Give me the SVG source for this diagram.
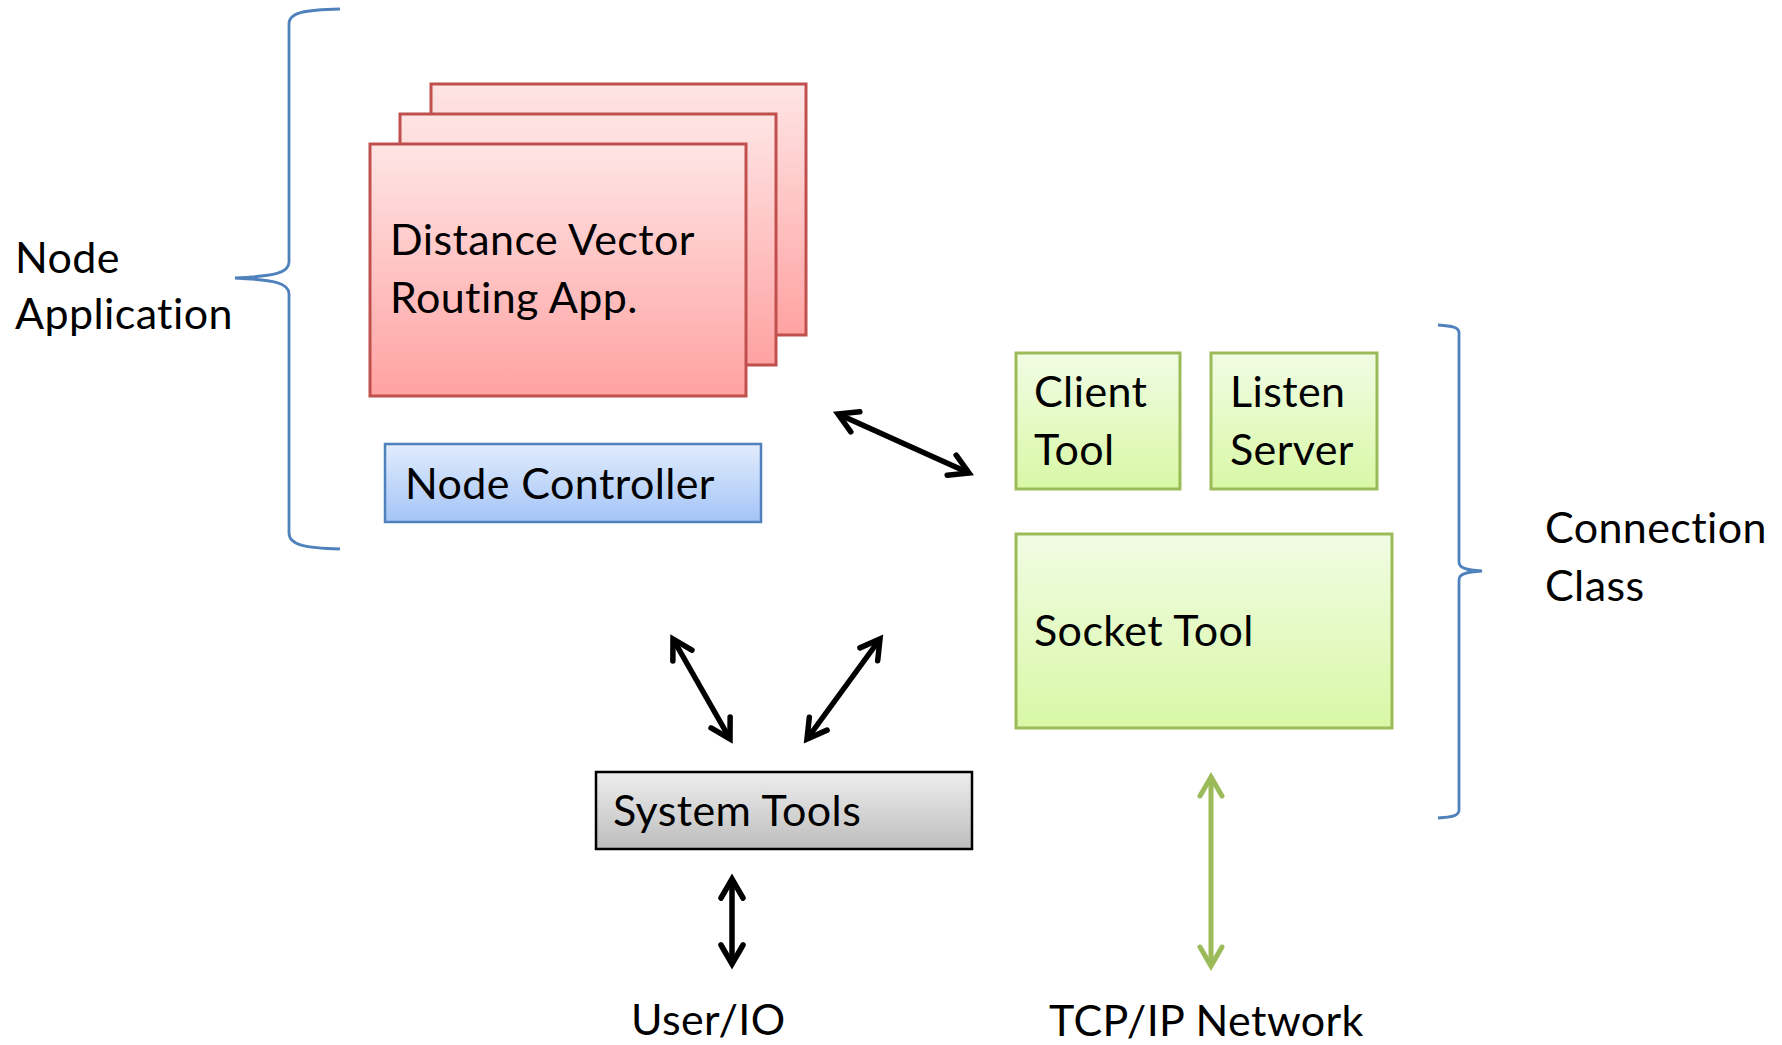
<svg xmlns="http://www.w3.org/2000/svg" width="1782" height="1045" viewBox="0 0 1782 1045">
<style>
  text { font-family: Lato, "Open Sans", "Liberation Sans", sans-serif; font-size: 43px; letter-spacing: 0.4px; fill: #000; }
  .brace { fill: none; stroke: #4f81bd; stroke-width: 2.8; }
  .red { fill: url(#gRed); stroke: #c0504d; stroke-width: 3; }
  .blue { fill: url(#gBlue); stroke: #4f81bd; stroke-width: 2.5; }
  .green { fill: url(#gGreen); stroke: #9bbb59; stroke-width: 3; }
  .gray { fill: url(#gGray); stroke: #000; stroke-width: 2.5; }
  .blk { stroke: #000; stroke-width: 5.5; fill: none; marker-start: url(#ahB); marker-end: url(#ahB); }
  .grn { stroke: #9bbb59; stroke-width: 5; fill: none; marker-start: url(#ahG); marker-end: url(#ahG); }
</style>
<defs>
  <linearGradient id="gRed" x1="0" y1="0" x2="0" y2="1">
    <stop offset="0" stop-color="#ffe5e5"/>
    <stop offset="1" stop-color="#ffa2a2"/>
  </linearGradient>
  <linearGradient id="gBlue" x1="0" y1="0" x2="0" y2="1">
    <stop offset="0" stop-color="#e2ecfd"/>
    <stop offset="1" stop-color="#a3c4f6"/>
  </linearGradient>
  <linearGradient id="gGreen" x1="0" y1="0" x2="0" y2="1">
    <stop offset="0" stop-color="#f1fce4"/>
    <stop offset="1" stop-color="#d8f8a6"/>
  </linearGradient>
  <linearGradient id="gGray" x1="0" y1="0" x2="0" y2="1">
    <stop offset="0" stop-color="#eeeeee"/>
    <stop offset="1" stop-color="#bdbdbd"/>
  </linearGradient>
  <marker id="ahB" markerUnits="userSpaceOnUse" viewBox="-26 -16 30 32" markerWidth="30" markerHeight="32" refX="0" refY="0" orient="auto-start-reverse" overflow="visible">
    <path d="M-19,-11 L0,0 L-19,11" fill="none" stroke="#000" stroke-width="5.5" stroke-linecap="round" stroke-linejoin="miter"/>
  </marker>
  <marker id="ahG" markerUnits="userSpaceOnUse" viewBox="-26 -16 30 32" markerWidth="30" markerHeight="32" refX="0" refY="0" orient="auto-start-reverse" overflow="visible">
    <path d="M-19,-11 L0,0 L-19,11" fill="none" stroke="#9bbb59" stroke-width="5" stroke-linecap="round" stroke-linejoin="miter"/>
  </marker>
</defs>
<rect width="1782" height="1045" fill="#fff"/>

<g id="brace-node-application">
  <path class="brace" d="M340,9 C305,10 289,12 289,24 L289,262 C289,273 275,276 235,278 C275,280 289,283 289,294 L289,533 C289,545 305,548 340,549"/>
  <text x="15" y="273">Node</text>
  <text x="15" y="329">Application</text>
</g>

<g id="brace-connection-class">
  <path class="brace" d="M1438,325 C1452,326 1459,327 1459,333 L1459,562 C1459,568 1466,570 1482,571 C1466,572 1459,574 1459,580 L1459,810 C1459,816 1452,817 1438,818"/>
  <text x="1545" y="543">Connection</text>
  <text x="1545" y="601">Class</text>
</g>

<g id="routing-app">
  <rect class="red" x="431" y="84" width="375" height="251"/>
  <rect class="red" x="400" y="114" width="376" height="251"/>
  <rect class="red" x="370" y="144" width="376" height="252"/>
  <text x="390" y="255">Distance Vector</text>
  <text x="390" y="313">Routing App.</text>
</g>

<g id="node-controller">
  <rect class="blue" x="385" y="444" width="376" height="78"/>
  <text x="405" y="499">Node Controller</text>
</g>

<g id="client-tool">
  <rect class="green" x="1016" y="353" width="164" height="136"/>
  <text x="1034" y="407">Client</text>
  <text x="1034" y="465">Tool</text>
</g>

<g id="listen-server">
  <rect class="green" x="1211" y="353" width="166" height="136"/>
  <text x="1230" y="407">Listen</text>
  <text x="1230" y="465">Server</text>
</g>

<g id="socket-tool">
  <rect class="green" x="1016" y="534" width="376" height="194"/>
  <text x="1034" y="646">Socket Tool</text>
</g>

<g id="system-tools">
  <rect class="gray" x="596" y="772" width="376" height="77"/>
  <text x="613" y="826">System Tools</text>
</g>

<g id="user-io">
  <text x="631" y="1035">User/IO</text>
</g>

<g id="tcp-ip-network">
  <text x="1049" y="1036">TCP/IP Network</text>
</g>

<g id="connectors">
  <line class="blk" x1="838" y1="414" x2="969" y2="473"/>
  <line class="blk" x1="673" y1="639" x2="730" y2="739"/>
  <line class="blk" x1="880" y1="639" x2="807" y2="739"/>
  <line class="blk" x1="732" y1="879" x2="732" y2="964"/>
  <line class="grn" x1="1211" y1="777" x2="1211" y2="966"/>
</g>
</svg>
